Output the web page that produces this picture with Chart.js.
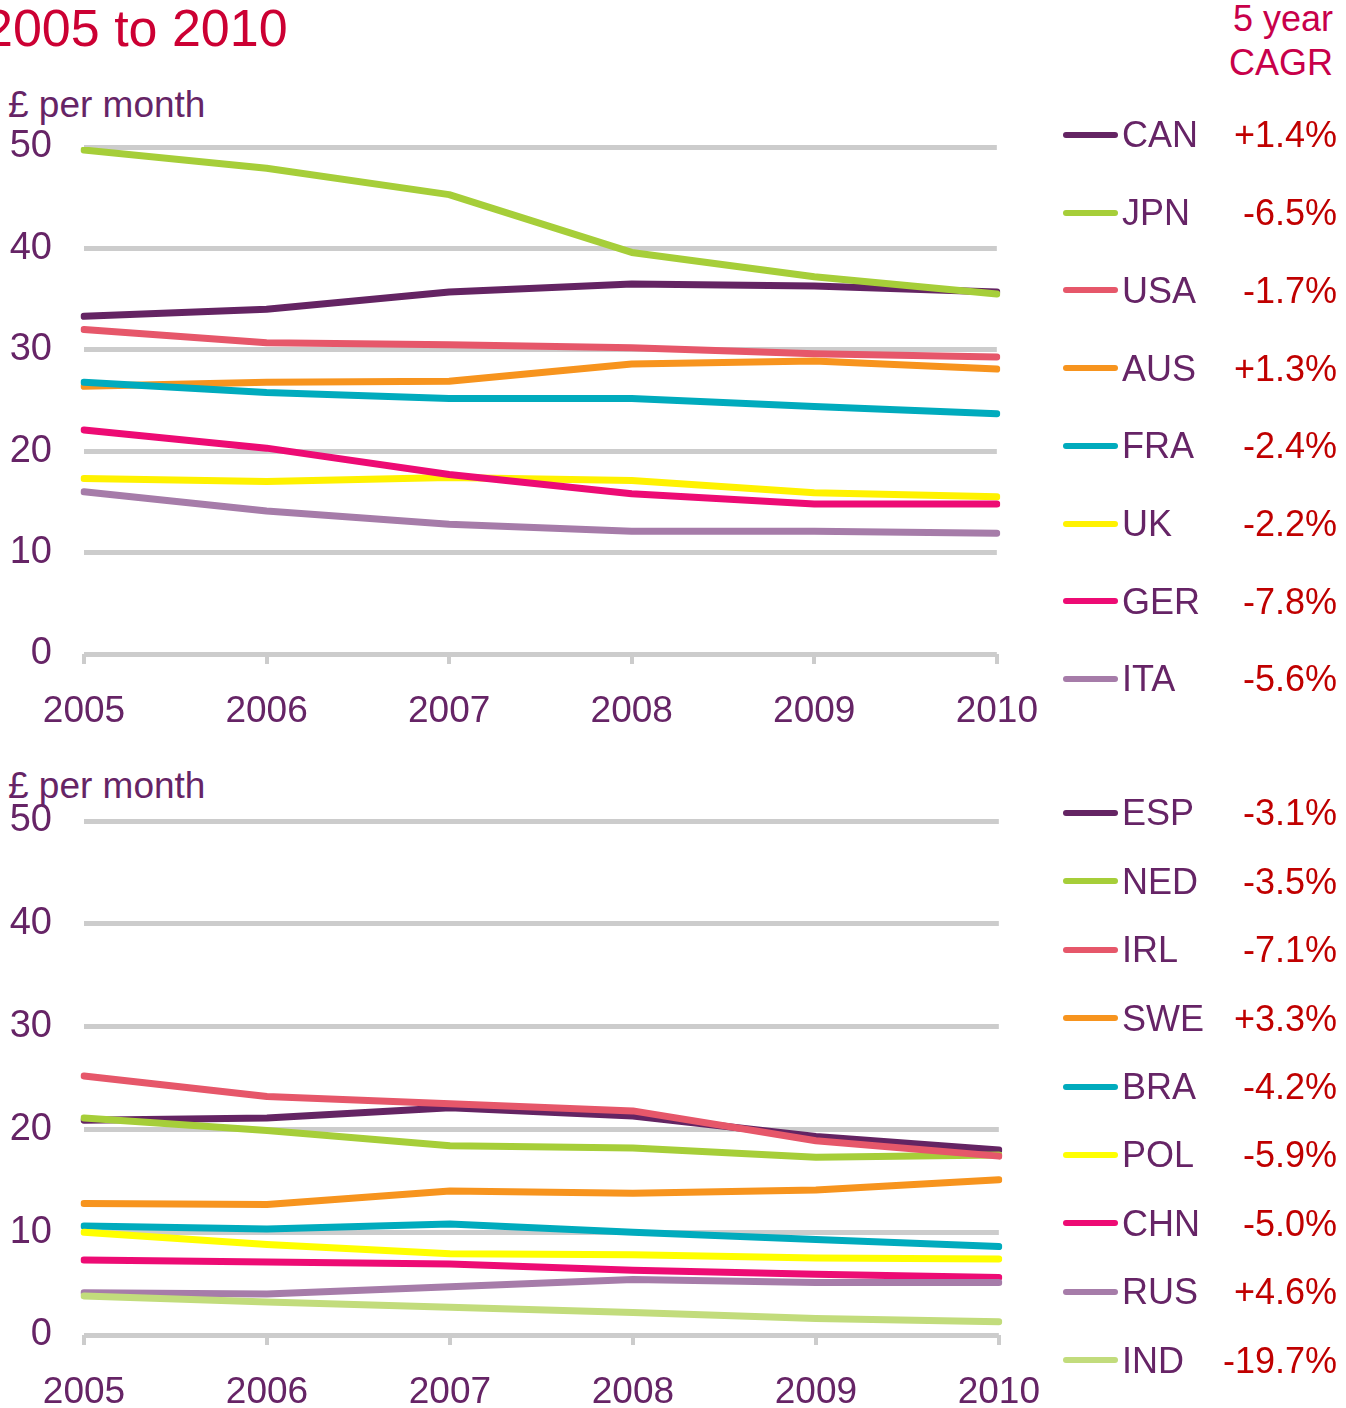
<!DOCTYPE html>
<html><head><meta charset="utf-8">
<script src="https://cdn.jsdelivr.net/npm/chart.js@4.4.1/dist/chart.umd.min.js"></script>
<style>
body{margin:0;background:#fff;width:1346px;height:1408px;overflow:hidden;position:relative;font-family:"Liberation Sans",Arial,sans-serif;}
.t{position:absolute;white-space:nowrap;line-height:1;}
canvas{position:absolute;}
.sw{position:absolute;height:6px;border-radius:3px;}
</style></head><body>
<div class="t" style="left:-16px;top:2px;font-size:52px;color:#cc0033;">2005 to 2010</div>
<div class="t" style="right:13px;top:1px;font-size:36px;color:#c8004a;text-align:right;">5 year</div>
<div class="t" style="right:13px;top:45px;font-size:36px;color:#c8004a;text-align:right;">CAGR</div>
<div class="t" style="left:8px;top:86px;font-size:37px;color:#662466;">£ per month</div>
<div class="t" style="left:8px;top:767px;font-size:37px;color:#662466;">£ per month</div>
<canvas id="c1" width="1064" height="740" style="left:0;top:0;"></canvas>
<canvas id="c2" width="1066" height="668" style="left:0;top:740px;"></canvas>
<div id="leg"></div>
<script>
const years = ['2005','2006','2007','2008','2009','2010'];
const yTicks = [0,10,20,30,40,50];

// Top chart series (£ per month)
const topCountries = ['CAN','JPN','USA','AUS','FRA','UK','GER','ITA'];
const topCagr = ['+1.4%','-6.5%','-1.7%','+1.3%','-2.4%','-2.2%','-7.8%','-5.6%'];
const CAN = [33.3, 34.0, 35.7, 36.5, 36.3, 35.7];
const JPN = [49.7, 47.9, 45.3, 39.6, 37.2, 35.5];
const USA = [32.0, 30.7, 30.5, 30.2, 29.6, 29.3];
const AUS = [26.4, 26.8, 26.9, 28.6, 28.9, 28.1];
const FRA = [26.8, 25.8, 25.2, 25.2, 24.4, 23.7];
const UK  = [17.3, 17.0, 17.4, 17.1, 15.9, 15.5];
const GER = [22.1, 20.3, 17.7, 15.8, 14.8, 14.8];
const ITA = [16.0, 14.1, 12.8, 12.1, 12.1, 11.9];

// Bottom chart series (£ per month)
const botCountries = ['ESP','NED','IRL','SWE','BRA','POL','CHN','RUS','IND'];
const botCagr = ['-3.1%','-3.5%','-7.1%','+3.3%','-4.2%','-5.9%','-5.0%','+4.6%','-19.7%'];
const ESP = [20.9, 21.1, 22.1, 21.3, 19.3, 18.0];
const NED = [21.1, 19.9, 18.4, 18.2, 17.3, 17.5];
const IRL = [25.2, 23.2, 22.5, 21.8, 18.9, 17.4];
const SWE = [12.8, 12.7, 14.0, 13.8, 14.1, 15.1];
const BRA = [10.6, 10.3, 10.8, 10.0, 9.3, 8.6];
const POL = [10.0, 8.8, 7.9, 7.8, 7.5, 7.4];
const CHN = [7.3, 7.1, 6.9, 6.3, 5.9, 5.6];
const RUS = [4.1, 4.0, 4.7, 5.4, 5.1, 5.1];
const IND = [3.8, 3.2, 2.7, 2.2, 1.6, 1.3];

const palette = ['#642463','#a6ce39','#e6576a','#f7941e','#00abbd','#fff200','#ed0b74','#a67ca9','#c2dc7c'];
const botPalette = ['#642463','#a6ce39','#e6576a','#f7941e','#00abbd','#ffff00','#ed0b74','#a67ca9','#c2dc7c'];
const textColor = '#662466';
const valueColor = '#c00000';
const gridColor = '#cccccc';
const FONT = '"Liberation Sans", Arial, sans-serif';

function makeChart(id, names, series, colors, pad, xH) {
  const n = series.length;
  const datasets = series.map((d, i) => ({
    label: names[i], data: d, borderColor: colors[i], backgroundColor: colors[i],
    borderWidth: 7, pointRadius: 0, tension: 0, fill: false,
    borderCapStyle: 'round', borderJoinStyle: 'round', order: n - i
  }));
  return new Chart(document.getElementById(id), {
    type: 'line',
    data: { labels: years, datasets },
    options: {
      responsive: false, animation: false, devicePixelRatio: 1,
      layout: { padding: pad },
      plugins: { legend: { display: false }, tooltip: { enabled: false } },
      scales: {
        x: {
          offset: false,
          grid: { display: true, drawOnChartArea: false, drawTicks: true, tickLength: 10, color: gridColor, lineWidth: 4 },
          border: { display: false },
          ticks: { color: textColor, font: { family: FONT, size: 37 }, padding: 26, maxRotation: 0, autoSkip: false },
          afterFit: s => { s.height = xH; }
        },
        y: {
          min: 0, max: 50,
          afterBuildTicks: s => { s.ticks = yTicks.map(v => ({ value: v })); },
          grid: { color: gridColor, lineWidth: 5, drawTicks: false },
          border: { display: false },
          ticks: { color: textColor, font: { family: FONT, size: 38 }, padding: 32 },
          afterFit: s => { s.width = 84; }
        }
      }
    }
  });
}

makeChart('c1', topCountries, [CAN, JPN, USA, AUS, FRA, UK, GER, ITA], palette,
  { top: 147, right: 53, left: 0, bottom: 0 }, 86);
makeChart('c2', botCountries, [ESP, NED, IRL, SWE, BRA, POL, CHN, RUS, IND], botPalette,
  { top: 81, right: 51, left: 0, bottom: 0 }, 73);

function legend(names, cagr, colors, y0, step) {
  const leg = document.getElementById('leg');
  names.forEach((nm, i) => {
    const cy = y0 + step * i;
    const sw = document.createElement('div');
    sw.className = 'sw';
    sw.style.cssText = `left:1063px;width:55px;top:${cy - 3}px;background:${colors[i]};`;
    leg.appendChild(sw);
    const lb = document.createElement('div');
    lb.className = 't';
    lb.style.cssText = `left:1122px;top:${cy - 17.6}px;font-size:36px;color:${textColor};`;
    lb.textContent = nm;
    leg.appendChild(lb);
    const v = document.createElement('div');
    v.className = 't';
    v.style.cssText = `right:9px;top:${cy - 17.6}px;font-size:36px;color:${valueColor};text-align:right;`;
    v.textContent = cagr[i];
    leg.appendChild(v);
  });
}
legend(topCountries, topCagr, palette, 135, 77.7);
legend(botCountries, botCagr, botPalette, 813, 68.4);
</script>
</body></html>
